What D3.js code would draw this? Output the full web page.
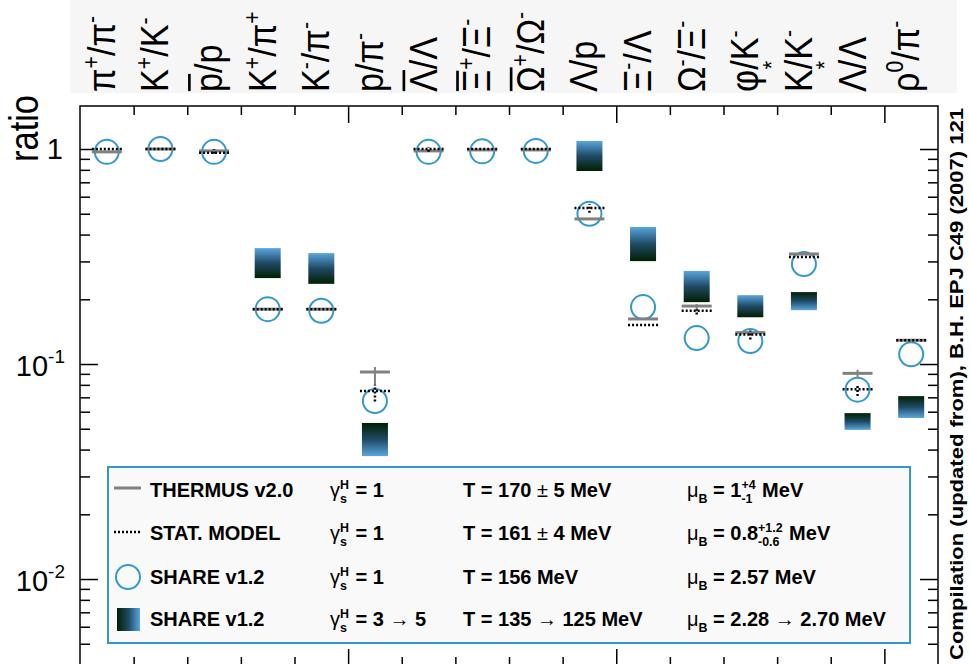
<!DOCTYPE html>
<meta charset="utf-8">
<style>
body { margin: 0; background: #fff; }
text { font-family: "Liberation Sans", Arial, sans-serif; fill: #000; }
</style>
<svg width="970" height="664"></svg>
<script src="https://d3js.org/d3.v7.min.js"></script>
<script>
// category labels: [text, kind] pieces, kind: n normal, sup, sub, bar (overline), star
const labels = [
  [["π","n"],["+","sup"],["/π","n"],["-","sup"]],
  [["K","n"],["+","sup"],["/K","n"],["-","sup"]],
  [["p","bar"],["/p","n"]],
  [["K","n"],["+","sup"],["/π","n"],["+","sup"]],
  [["K","n"],["-","sup"],["/π","n"],["-","sup"]],
  [["p/π","n"],["-","sup"]],
  [["Λ","bar"],["/Λ","n"]],
  [["Ξ","bar"],["+","sup"],["/Ξ","n"],["-","sup"]],
  [["Ω","bar"],["+","sup"],["/Ω","n"],["-","sup"]],
  [["Λ/p","n"]],
  [["Ξ","n"],["-","sup"],["/Λ","n"]],
  [["Ω","n"],["-","sup"],["/Ξ","n"],["-","sup"]],
  [["φ/K","n"],["-","sup"]],
  [["K","n"],["*","star"],["/K","n"],["-","sup"]],
  [["Λ","n"],["*","star"],["/Λ","n"]],
  [["ρ","n"],["0","sup"],["/π","n"],["-","sup"]]
];

// THERMUS v2.0
const thermus = [0.97, 1.0, 0.98, 0.18, 0.18, 0.0918, 0.98, 0.99, 0.99, 0.473, 0.162, 0.186, 0.14, 0.325, 0.0905, 0.129];
const thermusLo = [null, null, null, null, null, 0.0798, null, null, null, null, null, 0.176, null, null, 0.086, null];
const thermusHi = [null, null, null, null, null, 0.0968, null, null, null, null, null, 0.19, null, null, 0.094, null];
// STAT. MODEL
const statModel = [1.0, 1.0, 0.96, 0.18, 0.18, 0.0749, 1.0, 1.0, 1.0, 0.531, 0.152, 0.177, 0.137, 0.315, 0.0764, 0.129];
const statLo = [null, null, 0.95, null, null, 0.067, 0.97, null, null, 0.505, null, 0.17, 0.13, null, 0.071, null];
const statHi = [null, null, 1.0, null, null, 0.08, 1.02, null, null, 0.555, null, 0.18, 0.143, null, 0.08, null];
// SHARE v1.2, gamma = 1
const shareG1 = [0.97, 1.0, 0.97, 0.18, 0.177, 0.0673, 0.97, 0.975, 0.98, 0.50, 0.184, 0.132, 0.128, 0.292, 0.076, 0.111];
// SHARE v1.2, gamma = 3 and gamma = 5
const shareG3 = [null, null, null, 0.251, 0.236, 0.0532, null, null, null, 0.79, 0.301, 0.194, 0.165, 0.216, 0.0591, 0.0709];
const shareG5 = [null, null, null, 0.346, 0.328, 0.0373, null, null, null, 1.09, 0.434, 0.271, 0.209, 0.178, 0.0494, 0.0561];

const yMajor = [0.01, 0.1, 1];
const yMinor = [2,3,4,5,6,7,8,9].map(m => m * 0.001)
  .concat([2,3,4,5,6,7,8,9].map(m => m * 0.01))
  .concat([2,3,4,5,6,7,8,9].map(m => m * 0.1)).filter(v => v > 0.004);

const legendRows = [
  {name: "THERMUS v2.0",
   g: [["γ","g"],[["H","s"],"ss"],[" = 1","n"]],
   t: [["T = 170 ","n"],["±","g"],[" 5 MeV","n"]],
   m: [["μ","g"],["B","sub"],[" = 1","n"],[["+4","-1"],"ss"],[" MeV","n"]]},
  {name: "STAT. MODEL",
   g: [["γ","g"],[["H","s"],"ss"],[" = 1","n"]],
   t: [["T = 161 ","n"],["±","g"],[" 4 MeV","n"]],
   m: [["μ","g"],["B","sub"],[" = 0.8","n"],[["+1.2","-0.6"],"ss"],[" MeV","n"]]},
  {name: "SHARE v1.2",
   g: [["γ","g"],[["H","s"],"ss"],[" = 1","n"]],
   t: [["T = 156 MeV","n"]],
   m: [["μ","g"],["B","sub"],[" = 2.57 MeV","n"]]},
  {name: "SHARE v1.2",
   g: [["γ","g"],[["H","s"],"ss"],[" = 3 ","n"],["→","g"],[" 5","n"]],
   t: [["T = 135 ","n"],["→","g"],[" 125 MeV","n"]],
   m: [["μ","g"],["B","sub"],[" = 2.28 ","n"],["→","g"],[" 2.70 MeV","n"]]}
];

const svg = d3.select("svg");
const plotLeft = 80, plotRight = 938, plotTop = 106, plotBottom = 666;
const blue = "#3399cc";

const x = d3.scaleBand().domain(d3.range(labels.length)).range([plotLeft, plotRight]);
const xb = d3.scaleLinear().domain([0, labels.length]).range([plotLeft, plotRight]);
const y = d3.scaleLog().domain([0.00394, 1.585]).range([plotBottom, plotTop]);

// gradients
const defs = svg.append("defs");
function grad(id, x2, y2, stops) {
  const g = defs.append("linearGradient").attr("id", id)
    .attr("x1", 0).attr("y1", 0).attr("x2", x2).attr("y2", y2);
  stops.forEach(s => g.append("stop").attr("offset", s[0]).attr("stop-color", s[1]));
}
const light = "#5aa6dc", mid = "#1f4a66", dark = "#002000";
grad("lightTop", 0, 1, [[0, light], [0.5, mid], [1, dark]]);
grad("darkTop", 0, 1, [[0, dark], [0.5, mid], [1, light]]);
grad("legGrad", 1, 0, [[0, dark], [0.5, mid], [1, light]]);

// rich text helper, lays pieces out left to right in local coords
const nb = s => s.replace(/ /g, "\u00a0");
function rich(g, segs, fs, weight) {
  let px = 0;
  segs.forEach(([t, k]) => {
    if (k === "ss") {
      const a = g.append("text").attr("x", px).attr("y", -fs * 0.42)
        .attr("font-size", fs * 0.62).attr("font-weight", weight).text(nb(t[0]));
      const b = g.append("text").attr("x", px).attr("y", fs * 0.32)
        .attr("font-size", fs * 0.62).attr("font-weight", weight).text(nb(t[1]));
      px += Math.max(a.node().getComputedTextLength(), b.node().getComputedTextLength()) + 1;
      return;
    }
    const small = k === "sup" || k === "sub" || k === "star";
    const size = small ? fs * 0.62 : fs;
    const dy = k === "sup" ? -fs * 0.42 : k === "sub" ? fs * 0.32 : k === "star" ? -fs * 0.85 : 0;
    const el = g.append("text").attr("x", px).attr("y", dy).attr("font-size", size)
      .attr("font-weight", k === "g" ? "normal" : weight).text(nb(t));
    const w = el.node().getComputedTextLength();
    if (k === "bar") {
      g.append("line").attr("x1", px + 1).attr("x2", px + w - 1)
        .attr("y1", -fs * 0.86).attr("y2", -fs * 0.86)
        .attr("stroke", "#000").attr("stroke-width", fs * 0.07);
    }
    if (k !== "star") px += w;
  });
  return px;
}

// top band behind labels
svg.append("rect").attr("x", 70).attr("y", 0).attr("width", 887).attr("height", 93).attr("fill", "#f6f6f6");

// category labels
labels.forEach((segs, i) => {
  const g = svg.append("g")
    .attr("transform", `translate(${x(i) + x.bandwidth() / 2 + 8},92) rotate(-90) scale(0.9,1)`);
  rich(g, segs, 38, "normal");
});

// frame
svg.append("rect").attr("x", plotLeft).attr("y", plotTop).attr("width", plotRight - plotLeft).attr("height", plotBottom - plotTop)
  .attr("fill", "none").attr("stroke", "#000").attr("stroke-width", 1.5);

function styleAxis(g) {
  g.select(".domain").remove();
  g.selectAll("line").attr("stroke", "#000").attr("stroke-width", 1.5);
  g.selectAll("text").remove();
}
svg.append("g").attr("transform", `translate(${plotLeft},0)`)
  .call(d3.axisRight(y).tickValues(yMinor).tickSize(10)).call(styleAxis);
svg.append("g").attr("transform", `translate(${plotLeft},0)`)
  .call(d3.axisRight(y).tickValues(yMajor).tickSize(18)).call(styleAxis);
svg.append("g").attr("transform", `translate(${plotRight},0)`)
  .call(d3.axisLeft(y).tickValues(yMinor).tickSize(10)).call(styleAxis);
svg.append("g").attr("transform", `translate(${plotRight},0)`)
  .call(d3.axisLeft(y).tickValues(yMajor).tickSize(18)).call(styleAxis);

const bMinor = d3.range(1, labels.length).filter(k => k % 5 !== 0);
const bMajor = [5, 10, 15];
svg.append("g").attr("transform", `translate(0,${plotBottom})`)
  .call(d3.axisTop(xb).tickValues(bMinor).tickSize(9)).call(styleAxis);
svg.append("g").attr("transform", `translate(0,${plotBottom})`)
  .call(d3.axisTop(xb).tickValues(bMajor).tickSize(17)).call(styleAxis);
svg.append("g").attr("transform", `translate(0,${plotTop})`)
  .call(d3.axisBottom(xb).tickValues(bMinor).tickSize(9)).call(styleAxis);
svg.append("g").attr("transform", `translate(0,${plotTop})`)
  .call(d3.axisBottom(xb).tickValues(bMajor).tickSize(17)).call(styleAxis);

// y tick labels
svg.append("text").attr("x", 63).attr("y", y(1) + 10).attr("text-anchor", "end")
  .attr("font-size", 29).text("1");
[0.1, 0.01].forEach((v, i) => {
  const t = svg.append("text").attr("x", 65).attr("y", y(v) + 12).attr("text-anchor", "end").attr("font-size", 29);
  t.append("tspan").text("10");
  t.append("tspan").attr("font-size", 19).attr("dy", -13).text(i === 0 ? "-1" : "-2");
});

// y title
svg.append("text").attr("transform", "translate(38,95) rotate(-90) scale(0.86,1)")
  .attr("text-anchor", "end").attr("font-size", 40).text("ratio");

// right caption
svg.append("text").attr("transform", "translate(963,384) rotate(-90)")
  .attr("text-anchor", "middle").attr("font-size", 18).attr("font-weight", "bold")
  .attr("textLength", 552).attr("lengthAdjust", "spacingAndGlyphs")
  .text("Compilation (updated from), B.H. EPJ C49 (2007) 121");

const cx = i => x(i) + x.bandwidth() / 2;
const idx = d3.range(labels.length);

// SHARE gamma 3 -> 5 boxes
svg.append("g").selectAll("rect")
  .data(idx.filter(i => shareG3[i] !== null))
  .join("rect")
  .attr("x", i => cx(i) - 13)
  .attr("width", 26)
  .attr("y", i => y(Math.max(shareG3[i], shareG5[i])))
  .attr("height", i => Math.abs(y(shareG3[i]) - y(shareG5[i])))
  .attr("fill", i => shareG5[i] > shareG3[i] ? "url(#lightTop)" : "url(#darkTop)");

// SHARE gamma 1 circles
svg.append("g").selectAll("circle")
  .data(idx)
  .join("circle")
  .attr("cx", i => cx(i))
  .attr("cy", i => y(shareG1[i]))
  .attr("r", 12)
  .attr("fill", "none")
  .attr("stroke", blue)
  .attr("stroke-width", 2);

// THERMUS
const th = svg.append("g").attr("stroke", "#808080").attr("stroke-width", 3);
th.selectAll("line.h").data(idx).join("line").attr("class", "h")
  .attr("x1", i => cx(i) - 15).attr("x2", i => cx(i) + 15)
  .attr("y1", i => y(thermus[i])).attr("y2", i => y(thermus[i]));
th.selectAll("line.e").data(idx.filter(i => thermusLo[i] !== null)).join("line").attr("class", "e")
  .attr("stroke-width", 2)
  .attr("x1", i => cx(i)).attr("x2", i => cx(i))
  .attr("y1", i => y(thermusLo[i])).attr("y2", i => y(thermusHi[i]));

// STAT. MODEL
const st = svg.append("g").attr("stroke", "#000").attr("stroke-width", 2.5).attr("stroke-dasharray", "2,2");
st.selectAll("line.h").data(idx).join("line").attr("class", "h")
  .attr("x1", i => cx(i) - 15).attr("x2", i => cx(i) + 15)
  .attr("y1", i => y(statModel[i])).attr("y2", i => y(statModel[i]));
st.selectAll("line.e").data(idx.filter(i => statLo[i] !== null)).join("line").attr("class", "e")
  .attr("x1", i => cx(i)).attr("x2", i => cx(i))
  .attr("y1", i => y(statLo[i])).attr("y2", i => y(statHi[i]));

// legend
const leg = svg.append("g");
leg.append("rect").attr("x", 108).attr("y", 467).attr("width", 802).attr("height", 176)
  .attr("fill", "#f9f9f9").attr("stroke", blue).attr("stroke-width", 2);
const rowY = [490, 533, 577, 619];
leg.append("line").attr("x1", 114).attr("x2", 141).attr("y1", rowY[0] - 2).attr("y2", rowY[0] - 2)
  .attr("stroke", "#808080").attr("stroke-width", 3);
leg.append("line").attr("x1", 114).attr("x2", 141).attr("y1", rowY[1] - 1).attr("y2", rowY[1] - 1)
  .attr("stroke", "#000").attr("stroke-width", 2.5).attr("stroke-dasharray", "2,2");
leg.append("circle").attr("cx", 128).attr("cy", rowY[2]).attr("r", 12)
  .attr("fill", "none").attr("stroke", blue).attr("stroke-width", 2);
leg.append("rect").attr("x", 117).attr("y", rowY[3] - 11).attr("width", 23).attr("height", 23)
  .attr("fill", "url(#legGrad)");
legendRows.forEach((r, k) => {
  const base = rowY[k] + 7;
  leg.append("text").attr("x", 150).attr("y", base).attr("font-size", 20).attr("font-weight", "bold").text(r.name);
  rich(leg.append("g").attr("transform", `translate(330,${base})`), r.g, 20, "bold");
  rich(leg.append("g").attr("transform", `translate(463,${base})`), r.t, 20, "bold");
  rich(leg.append("g").attr("transform", `translate(687,${base})`), r.m, 20, "bold");
});
</script>
